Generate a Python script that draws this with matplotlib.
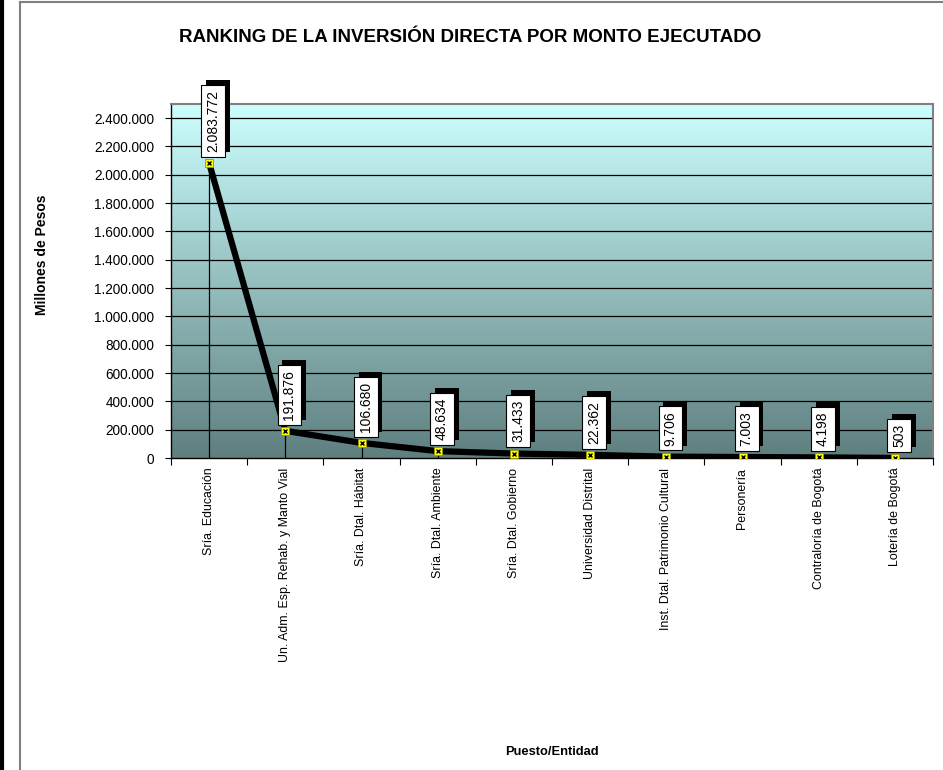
import matplotlib
matplotlib.use("Agg")
import matplotlib.pyplot as plt
import numpy as np
from matplotlib.colors import LinearSegmentedColormap
from matplotlib.lines import Line2D
from matplotlib.ticker import FuncFormatter, FixedLocator
import matplotlib.patheffects as pe

plt.rcParams['font.family'] = ['Liberation Sans', 'DejaVu Sans']

entidades = ["Sría. Educación", "Un. Adm. Esp. Rehab. y Manto Vial", "Sría. Dtal. Hábitat",
             "Sría. Dtal. Ambiente", "Sría. Dtal. Gobierno", "Universidad Distrital",
             "Inst. Dtal. Patrimonio Cultural", "Personería", "Contraloría de Bogotá",
             "Lotería de Bogotá"]
montos = [2083772, 191876, 106680, 48634, 31433, 22362, 9706, 7003, 4198, 503]
y_ticks = list(range(0, 2400001, 200000))


def miles(v, pos=None):
    return f"{v:,.0f}".replace(",", ".")


fig = plt.figure(figsize=(9.43, 7.7), dpi=100)
ax = fig.add_axes([171 / 943, 1 - 458 / 770, 762 / 943, 354 / 770])

# marco de la hoja
fig.add_artist(Line2D([0.002, 0.002], [0, 1], color='black', lw=3, transform=fig.transFigure))
fig.add_artist(Line2D([20 / 943, 20 / 943], [0, 1 - 2 / 770], color='#808080', lw=1.5, transform=fig.transFigure))
fig.add_artist(Line2D([20 / 943, 1], [1 - 2 / 770, 1 - 2 / 770], color='#808080', lw=1.5, transform=fig.transFigure))

x = np.arange(len(montos))
ax.set_xlim(-0.5, len(montos) - 0.5)
ax.set_ylim(0, 2500000)

# fondo degradado
cmap = LinearSegmentedColormap.from_list("fondo", ["#5f7f7f", "#ccffff"])
grad = np.linspace(0, 1, 256).reshape(-1, 1)
ax.imshow(grad, cmap=cmap, aspect='auto', origin='lower',
          extent=[-0.5, len(montos) - 0.5, 0, 2500000], zorder=0)

for t in y_ticks[1:]:
    ax.axhline(t, color='black', lw=0.9, zorder=1)

ax.vlines(x, 0, montos, color='black', lw=0.9, zorder=2)
ax.plot(x, montos, color='black', lw=4.5, zorder=3, solid_capstyle='butt')
ax.plot(x, montos, ls='none', marker='s', ms=6, mfc='#ffff00', mec='#999900', mew=0.6, zorder=4)
ax.plot(x, montos, ls='none', marker='x', ms=3.5, mec='black', mew=1, zorder=5)

for xi, v in zip(x, montos):
    t = ax.annotate(miles(v), (xi, v), xytext=(3, 8), textcoords='offset points',
                    rotation=90, ha='center', va='bottom', fontsize=10, color='black',
                    bbox=dict(boxstyle='square,pad=0.35', fc='white', ec='black', lw=0.8), zorder=7)
    t.get_bbox_patch().set_path_effects([
        pe.SimplePatchShadow(offset=(3.5, 3.5), shadow_rgbFace='black', alpha=1), pe.Normal()])

ax.yaxis.set_major_locator(FixedLocator(y_ticks))
ax.yaxis.set_major_formatter(FuncFormatter(miles))
ax.set_xticks(x)
ax.set_xticklabels(entidades, rotation=90, fontsize=8.9, va='top')
ax.set_xticks(np.arange(-0.5, len(montos), 1), minor=True)
ax.tick_params(axis='x', which='major', length=0, pad=7)
ax.tick_params(axis='x', which='minor', length=5, width=0.8, direction='out')
ax.tick_params(axis='y', length=4, width=0.8, labelsize=9.8, pad=8)

for s in ax.spines.values():
    s.set_color('#808080')
    s.set_linewidth(1.5)
ax.spines['left'].set_color('black')
ax.spines['left'].set_linewidth(1)
ax.spines['bottom'].set_color('black')
ax.spines['bottom'].set_linewidth(1)

fig.text(470 / 943, 1 - 38 / 770, "RANKING DE LA INVERSIÓN DIRECTA POR MONTO EJECUTADO",
         ha='center', va='center', fontsize=13.5, fontweight='bold')
fig.text(42 / 943, 1 - 255 / 770, "Millones de Pesos", rotation=90,
         ha='center', va='center', fontsize=10, fontweight='bold')
fig.text(552 / 943, 1 - 752 / 770, "Puesto/Entidad", ha='center', va='center',
         fontsize=9.3, fontweight='bold')

fig.savefig("out.png", dpi=100)
